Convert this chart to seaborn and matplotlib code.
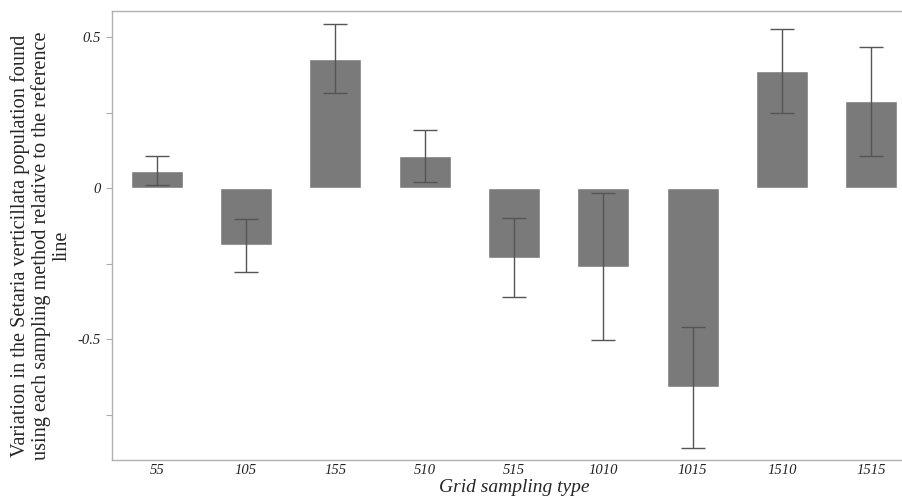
import matplotlib
matplotlib.use('Agg')
import matplotlib.pyplot as plt
import seaborn as sns
import pandas as pd
from matplotlib.ticker import MultipleLocator, FixedLocator

# data
grid_types = ['55', '105', '155', '510', '515', '1010', '1015', '1510', '1515']
variation = [0.058, -0.19, 0.428, 0.106, -0.23, -0.26, -0.659, 0.387, 0.287]
err = [0.048, 0.088, 0.115, 0.087, 0.13, 0.244, 0.20, 0.139, 0.18]

df = pd.DataFrame({'grid': grid_types, 'var': variation})

sns.set_style('white')
plt.rcParams['font.family'] = ['Liberation Serif', 'DejaVu Serif']

fig = plt.figure(figsize=(9.03, 4.99), dpi=100)
# the plot area runs a little past the right edge of the picture
ax = fig.add_axes([112 / 903, 1 - 460 / 499, (916 - 112) / 903, (460 - 11) / 499])

sns.barplot(data=df, x='grid', y='var', order=grid_types, color='#7a7a7a',
            saturation=1, width=0.58, errorbar=None, ax=ax)
ax.errorbar(range(len(grid_types)), variation, yerr=err, fmt='none',
            ecolor='#555555', elinewidth=1, capsize=8.6, capthick=1)

ax.set_xlim(-0.5, 8.5)
ax.set_ylim(-0.90, 0.586)

ax.yaxis.set_major_locator(FixedLocator([-0.5, 0, 0.5]))
ax.yaxis.set_minor_locator(MultipleLocator(0.25))
ax.set_yticklabels(['-0.5', '0', '0.5'])
for lab in ax.get_yticklabels() + ax.get_xticklabels():
    lab.set_fontstyle('italic')
    lab.set_fontsize(10.5)
    lab.set_color('#222222')

ax.tick_params(axis='y', which='both', length=4, width=0.8, color='#aaaaaa',
               direction='out', left=True, pad=4)
ax.tick_params(axis='x', length=0, pad=3)

for side in ['left', 'bottom', 'top']:
    ax.spines[side].set_color('#b0b0b0')
    ax.spines[side].set_linewidth(1)
ax.spines['right'].set_visible(False)

ax.set_xlabel('Grid sampling type', fontsize=14, fontstyle='italic', labelpad=1)
ax.set_ylabel('Variation in the Setaria verticillata population found\n'
              'using each sampling method relative to the reference\nline',
              fontsize=14.6, linespacing=1.1)
ax.yaxis.set_label_coords(-0.05, 0.477)

fig.savefig('out.png', dpi=100)
